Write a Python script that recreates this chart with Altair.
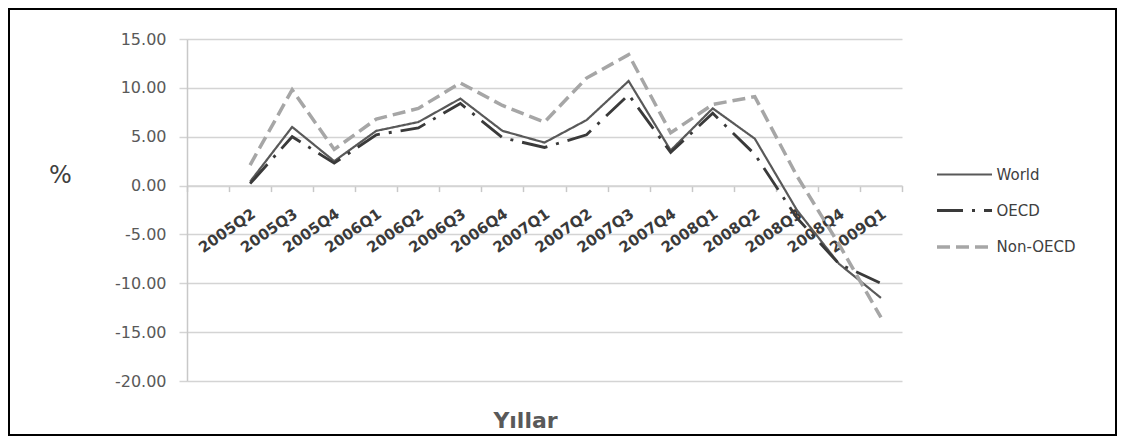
import altair as alt
import pandas as pd

quarters = ["2005Q2", "2005Q3", "2005Q4", "2006Q1", "2006Q2", "2006Q3", "2006Q4",
            "2007Q1", "2007Q2", "2007Q3", "2007Q4", "2008Q1", "2008Q2", "2008Q3",
            "2008Q4", "2009Q1"]
world = [0.4, 6.0, 2.5, 5.6, 6.5, 8.9, 5.6, 4.4, 6.7, 10.7, 3.6, 7.9, 4.8, -2.5, -8.0, -11.5]
oecd = [0.2, 5.0, 2.3, 5.2, 5.9, 8.4, 4.9, 3.9, 5.2, 9.3, 3.4, 7.4, 3.2, -3.3, -8.0, -10.0]
non_oecd = [2.1, 9.8, 3.7, 6.8, 7.9, 10.5, 8.2, 6.5, 11.0, 13.4, 5.4, 8.3, 9.1, 1.0, -6.0, -13.5]
series_names = ["World", "OECD", "Non-OECD"]
series_colors = ["#595959", "#3a3a3a", "#a6a6a6"]
series_dashes = [[1, 0], [26, 9, 3, 9], [13, 6]]
series_widths = [2.2, 3.5]
y_ticks = [-20, -15, -10, -5, 0, 5, 10, 15]
x_domain = [""] + quarters  # the original axis keeps one empty slot before 2005Q2

rows = []
for name, vals in zip(series_names, [world, oecd, non_oecd]):
    for q, v in zip(quarters, vals):
        rows.append({"Çeyrek": q, "Seri": name, "Değer": v})
df = pd.DataFrame(rows)

W, H = 715, 342
zero_offset = -(H - H * 15 / 35)

legend = alt.Legend(
    title=None, orient="none", legendX=748, legendY=123,
    symbolType="M-2.5,0H2.5", symbolSize=484, symbolOffset=16.5,
    labelOffset=19, labelFontSize=15, labelColor="#404040", labelFont="DejaVu Sans",
    rowPadding=15,
)

lines = alt.Chart(df).mark_line(strokeCap="butt").encode(
    x=alt.X("Çeyrek:N", bandPosition=0.5,
            scale=alt.Scale(type="band", domain=x_domain, paddingInner=0, paddingOuter=0),
            axis=alt.Axis(title="Yıllar", offset=zero_offset, tickBand="extent",
                          labelAngle=325, labelAlign="right", labelBaseline="middle",
                          labelOffset=3, labelPadding=20, labelFontSize=15,
                          labelFontWeight="bold", labelColor="#3a3a3a",
                          tickSize=6, tickColor="#c8c8c8", tickWidth=1.5,
                          domainColor="#d4d4d4", domainWidth=1.5, grid=False,
                          titleX=338, titleY=242, titleAlign="center",
                          titleBaseline="alphabetic", titleFontSize=22,
                          titleFontWeight="bold", titleColor="#595959")),
    y=alt.Y("Değer:Q",
            scale=alt.Scale(domain=[-20, 15], nice=False, zero=False),
            axis=alt.Axis(values=y_ticks, title="%", titleAngle=0, titleX=-127, titleY=136,
                          titleAlign="center", titleBaseline="middle", titleFontSize=24,
                          titleFontWeight="normal", titleColor="#404040",
                          labelExpr="replace(format(datum.value, '.2f'), '−', '-')",
                          labelFontSize=16, labelColor="#595959", labelPadding=13,
                          tickSize=8, tickColor="#d4d4d4", tickWidth=1.5,
                          domainColor="#c8c8c8", domainWidth=1.5,
                          grid=True, gridColor="#d4d4d4", gridWidth=1.5)),
    color=alt.Color("Seri:N", scale=alt.Scale(domain=series_names, range=series_colors),
                    legend=legend),
    strokeDash=alt.StrokeDash("Seri:N", scale=alt.Scale(domain=series_names, range=series_dashes),
                              legend=legend),
    strokeWidth=alt.StrokeWidth("Seri:N", scale=alt.Scale(domain=series_names, range=series_widths),
                                legend=legend),
)

frame = alt.Chart(alt.Data(values=[{}])).mark_rect(filled=False, stroke="black", strokeWidth=2).encode(
    x=alt.value(-178), x2=alt.value(929), y=alt.value(-30), y2=alt.value(396)
)

chart = alt.layer(lines, frame).properties(
    width=W, height=H,
    autosize=alt.AutoSizeParams(type="none"),
    padding={"left": 179, "top": 31, "right": 215, "bottom": 55},
).configure(font="DejaVu Sans").configure_view(strokeWidth=0)

chart.save("out.html", embed_options={"renderer": "svg", "actions": False})
